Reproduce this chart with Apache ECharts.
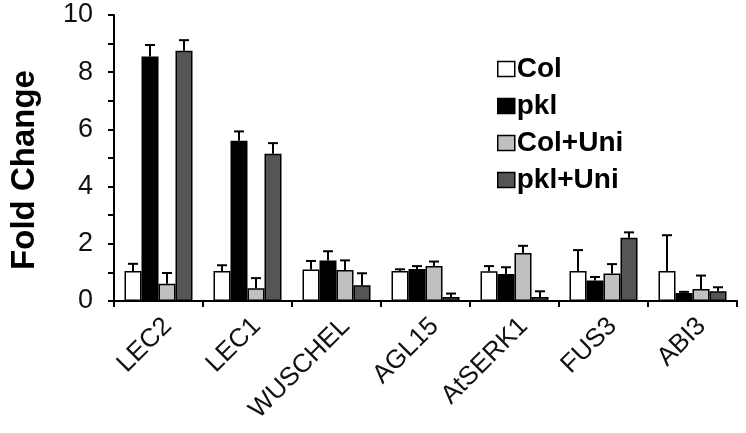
<!DOCTYPE html>
<html>
<head>
<meta charset="utf-8">
<script src="https://cdn.jsdelivr.net/npm/echarts@6/dist/echarts.min.js"></script>
<style>
html,body{margin:0;padding:0;background:#fff;}
#chart{width:746px;height:433px;}
</style>
</head>
<body>
<div id="chart"></div>
<script>
// genes on the x axis
var genes = ['LEC2', 'LEC1', 'WUSCHEL', 'AGL15', 'AtSERK1', 'FUS3', 'ABI3'];
var seriesNames = ['Col', 'pkl', 'Col+Uni', 'pkl+Uni'];

// mean fold change
var col    = [1.05, 1.05, 1.10, 1.05, 1.04, 1.05, 1.05];
var pkl    = [8.55, 5.60, 1.42, 1.12, 0.94, 0.72, 0.28];
var colUni = [0.60, 0.45, 1.08, 1.22, 1.68, 0.96, 0.42];
var pklUni = [8.75, 5.15, 0.55, 0.14, 0.14, 2.21, 0.34];

// error (upper bar only)
var colErr    = [0.25, 0.20, 0.30, 0.06, 0.18, 0.73, 1.25];
var pklErr    = [0.40, 0.33, 0.32, 0.10, 0.24, 0.12, 0.04];
var colUniErr = [0.38, 0.35, 0.34, 0.16, 0.25, 0.33, 0.47];
var pklUniErr = [0.37, 0.37, 0.42, 0.12, 0.20, 0.19, 0.14];

var yTicks = [0, 2, 4, 6, 8, 10];

var means = [col, pkl, colUni, pklUni];
var errs = [colErr, pklErr, colUniErr, pklUniErr];
var colors = ['#ffffff', '#000000', '#c0c0c0', '#555555'];
var barW = 17;

var chart = echarts.init(document.getElementById('chart'));

var series = [];
means.forEach(function (m, i) {
	series.push({
		name: seriesNames[i],
		type: 'bar',
		data: m,
		barWidth: barW,
		barGap: '0%',
		itemStyle: {color: colors[i], borderColor: '#000', borderWidth: 1.5}
	});
});
// error bars drawn on top of each bar
means.forEach(function (m, i) {
	var d = m.map(function (v, k) { return [k, v, errs[i][k]]; });
	series.push({
		type: 'custom',
		z: 10,
		silent: true,
		data: d,
		renderItem: function (params, api) {
			var c = api.coord([api.value(0), api.value(1)]);
			var top = api.coord([api.value(0), api.value(1) + api.value(2)]);
			var x = c[0] + (i - 1.5) * barW;
			var st = {stroke: '#000', lineWidth: 2};
			return {
				type: 'group',
				children: [
					{type: 'line', shape: {x1: x, y1: c[1], x2: x, y2: top[1]}, style: st},
					{type: 'line', shape: {x1: x - 5, y1: top[1], x2: x + 5, y2: top[1]}, style: st}
				]
			};
		}
	});
});

chart.setOption({
	animation: false,
	backgroundColor: '#fff',
	grid: {left: 114, right: 9, top: 15, bottom: 132},
	legend: {
		data: seriesNames,
		orient: 'vertical',
		left: 492,
		top: 50,
		icon: 'rect',
		itemWidth: 17,
		itemHeight: 15,
		itemGap: 9,
		itemStyle: {borderColor: '#000', borderWidth: 1.5},
		textStyle: {fontFamily: 'Liberation Sans', fontWeight: 'bold', fontSize: 28, color: '#000', padding: [0, 0, 0, -3]}
	},
	xAxis: {
		type: 'category',
		data: genes,
		axisLine: {lineStyle: {color: '#000', width: 2}},
		axisTick: {show: true, length: 6, lineStyle: {color: '#000', width: 2}},
		axisLabel: {rotate: 45, fontFamily: 'Liberation Sans', fontSize: 26, color: '#111', margin: 12, verticalAlign: 'top'}
	},
	yAxis: {
		type: 'value',
		min: 0,
		max: 10,
		interval: 1,
		name: 'Fold Change',
		nameLocation: 'middle',
		nameGap: 73,
		nameTextStyle: {fontFamily: 'Liberation Sans', fontWeight: 'bold', fontSize: 33, color: '#000', padding: [0, 24, 0, 0]},
		splitLine: {show: false},
		axisLine: {show: true, lineStyle: {color: '#000', width: 2}},
		axisTick: {show: true, length: 6, lineStyle: {color: '#000', width: 2}},
		axisLabel: {
			fontFamily: 'Liberation Sans', fontSize: 27, color: '#111', margin: 21,
			formatter: function (v) { return yTicks.indexOf(v) >= 0 ? String(v) : ''; }
		}
	},
	series: series
});
</script>
</body>
</html>
